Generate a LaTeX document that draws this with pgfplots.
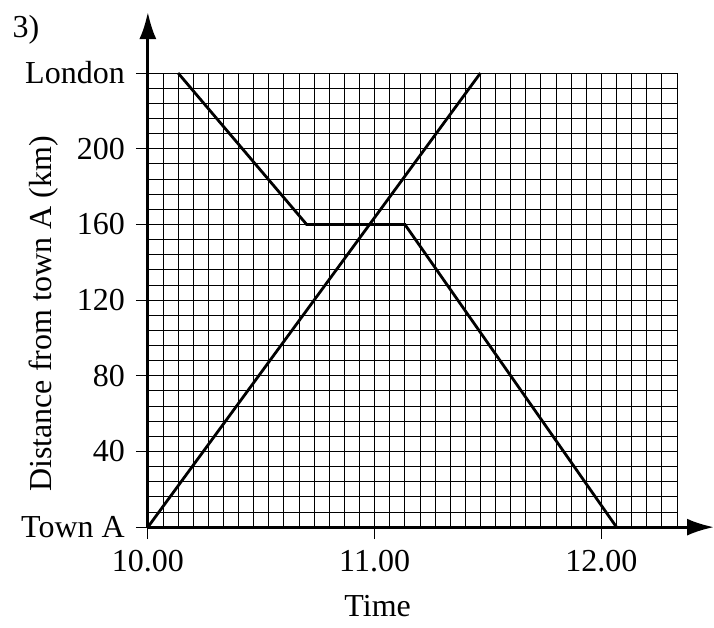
\documentclass[border=0pt]{standalone}
\usepackage{fontspec}
\setmainfont{Liberation Serif}
\usepackage{pgfplots}
\pgfplotsset{compat=1.18}
\usetikzlibrary{arrows.meta}
\begin{document}
\fontsize{16}{19}\selectfont
\begin{tikzpicture}
\begin{axis}[
  scale only axis,
  width=264.5pt, height=227pt,
  xmin=0, xmax=140, ymin=0, ymax=240,
  enlargelimits=false,
  clip=false,
  axis lines=left,
  axis line style={-{Latex[length=13.5pt,width=8.5pt]}, line width=1.4pt},
  x axis line style={shorten >=-18.5pt},
  y axis line style={shorten >=-30.5pt},
  xtick={0,60,120},
  xticklabels={10.00,11.00,12.00},
  ytick={0,40,...,240},
  yticklabels={Town A,40,80,120,160,200,London},
  minor xtick={0,4,...,140},
  minor ytick={0,8,...,240},
  grid=both,
  grid style={black, line width=0.45pt},
  tick align=outside,
  major tick length=6pt,
  minor tick length=0pt,
  major tick style={black, line width=0.5pt},
  xlabel={Time},
  ylabel={Distance from town A (km)},
  xlabel style={at={(axis cs:60.8,-41.8)}, anchor=center},
  ylabel style={at={(axis cs:-27.5,112.6)}, anchor=center},
]
  % train from town A to London
  \addplot[black, line width=1.4pt] coordinates {(0,0) (88,240)};
  % train from London, with a stop at 160 km
  \addplot[black, line width=1.4pt] coordinates {(8,240) (42,160) (68,160) (124,0)};
  \node[anchor=base west, inner sep=0pt] at (axis cs:-35.9,259) {3)};
  \path (axis cs:-39.12,-49.7) rectangle (axis cs:149.6,278.6);
\end{axis}
\end{tikzpicture}
\end{document}
